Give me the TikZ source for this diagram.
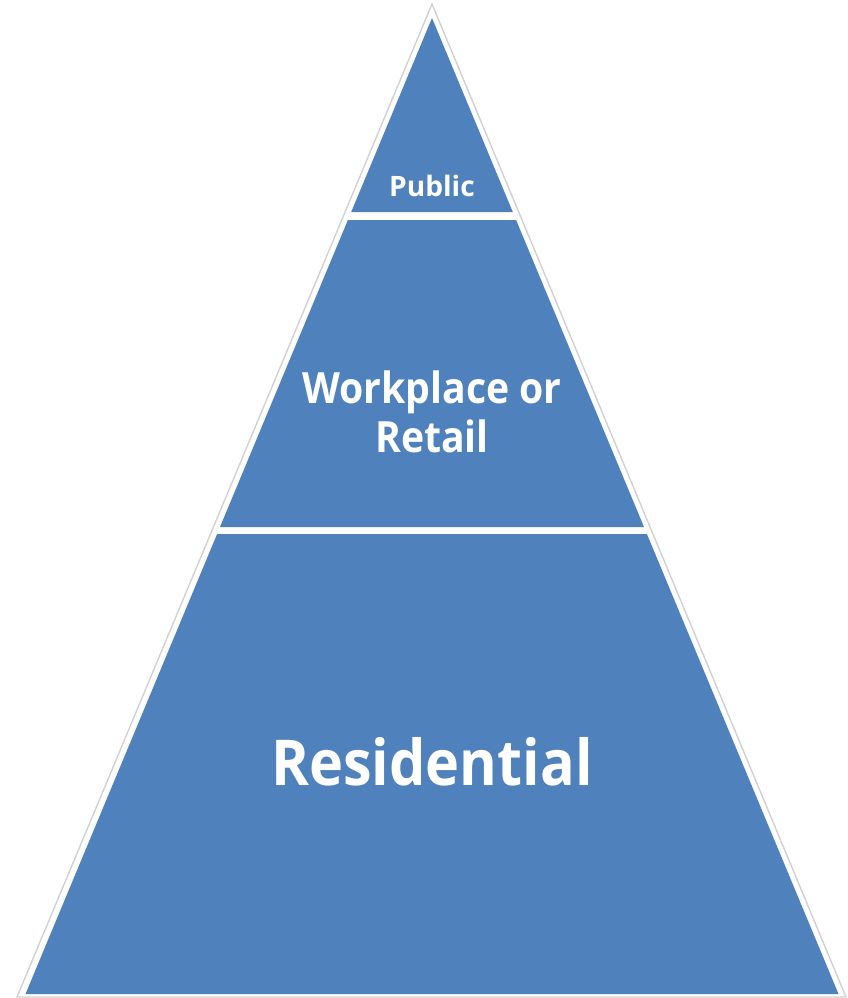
\documentclass[tikz,border=0pt]{standalone}
\usepackage{fontspec}
\setmainfont{Open Sans}
\newfontfamily\tierfont[FakeStretch=0.91]{Open Sans}
\usepackage{xcolor}
\usepackage{tikz}
\definecolor{tierblue}{HTML}{4F81BD}

\begin{document}
\begin{tikzpicture}
        [
        x=0.02cm, y=-0.02cm,
        tier/.style = {fill=tierblue, draw=none},
        tierlabel/.style = {text=white, font=\bfseries, align=center, inner sep=0pt}
        ]
    \useasboundingbox (0,0) rectangle (848,998);
    % outer rim
    \draw[black!18, line width=0.8pt, fill=white] (432,4) -- (846,997) -- (17,997) -- cycle;
    % three tiers
    \fill[tier] (432,18) -- (512.8,212) -- (351.2,212) -- cycle;
    \fill[tier] (347.9,220) -- (516.1,220) -- (644,527) -- (220,527) -- cycle;
    \fill[tier] (217.1,534) -- (646.9,534) -- (838.5,994) -- (25.5,994) -- cycle;

    \node[tierlabel, font=\fontsize{16}{19}\selectfont\bfseries] (public) at (432,186) {Public};
    \node[tierlabel, font=\fontsize{24.5}{28}\selectfont\tierfont\bfseries] (work) at (432,412) {Workplace or\\Retail};
    \node[tierlabel, font=\fontsize{36}{42}\selectfont\tierfont\bfseries] (home) at (432,762) {Residential};
    \end{tikzpicture}
\end{document}
